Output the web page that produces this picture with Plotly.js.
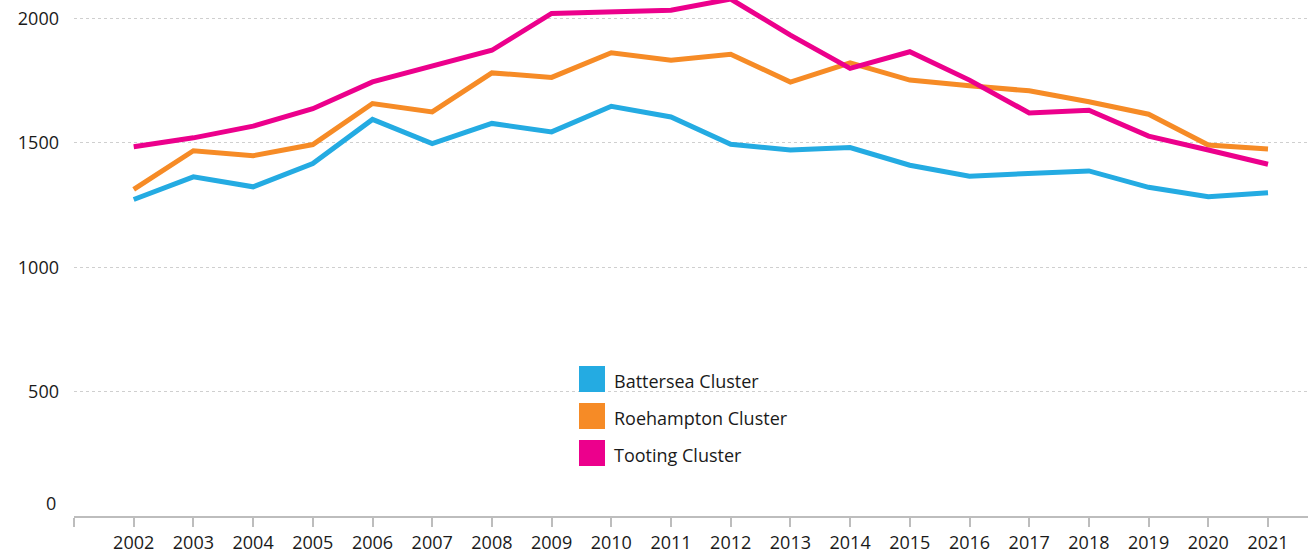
<!DOCTYPE html>
<html>
<head>
<meta charset="utf-8">
<script src="https://cdn.plot.ly/plotly-3.0.1.min.js"></script>
<style>html,body{margin:0;padding:0;background:#fff;}#chart{width:1308px;height:554px;}</style>
</head>
<body>
<div id="chart"></div>
<script>
const years = [2002,2003,2004,2005,2006,2007,2008,2009,2010,2011,2012,2013,2014,2015,2016,2017,2018,2019,2020,2021];
const battersea = [1272,1363,1323,1417,1594,1497,1578,1544,1647,1604,1494,1471,1481,1410,1366,1379,1387,1321,1283,1299];
const roehampton = [1313,1468,1448,1493,1658,1624,1781,1763,1862,1832,1856,1744,1821,1752,1729,1709,1665,1615,1491,1475];
const tooting = [1484,1520,1567,1637,1745,1807,1872,2020,2024,2033,2078,1933,1799,1866,1752,1620,1631,1527,1471,1414];
const seriesNames = ['Battersea Cluster','Roehampton Cluster','Tooting Cluster'];
const seriesColors = ['#24abe2','#f68b26','#ec008c'];
const yTicks = [0,500,1000,1500,2000];

const FONT = '"Segoe UI","Open Sans","Noto Sans",sans-serif';
const seriesData = [battersea, roehampton, tooting];

const traces = seriesData.map((vals, i) => ({
  type: 'scatter', mode: 'lines', x: years, y: vals, name: seriesNames[i],
  line: {color: seriesColors[i], width: 5, shape: 'linear'},
  showlegend: false, hoverinfo: 'x+y+name'
}));

// custom legend (large square swatches)
const shapes = [];
const annotations = [];
const legX = 579, legY0 = 366, legStep = 37, sw = 26;
seriesNames.forEach((n, i) => {
  const top = legY0 + i * legStep;
  shapes.push({type:'rect', xref:'paper', yref:'paper',
    x0: (legX - 74) / (1308 - 74), x1: (legX + sw - 74) / (1308 - 74),
    y0: 1 - (top + sw) / 516, y1: 1 - top / 516,
    fillcolor: seriesColors[i], line: {width: 0}});
  annotations.push({xref:'paper', yref:'paper', x: (612 - 74) / (1308 - 74), y: 1 - (top + sw/2 + 2) / 516,
    xanchor:'left', yanchor:'middle', text: n, showarrow:false,
    font:{family: FONT, size: 18, color:'#1a1a1a'}});
});
// zero label lifted above axis line
annotations.push({xref:'paper', yref:'y', x: 0, y: yTicks[0], xanchor:'right', yanchor:'middle',
  xshift: -16, yshift: 13, text: String(yTicks[0]), showarrow:false,
  font:{family: FONT, size: 18, color:'#1a1a1a'}});

const layout = {
  width: 1308, height: 554,
  margin: {l: 74, r: 0, t: 0, b: 38, pad: 0},
  paper_bgcolor: '#fff', plot_bgcolor: '#fff',
  font: {family: FONT, size: 18, color: '#1a1a1a'},
  showlegend: false,
  xaxis: {
    range: [2001, 2021.67],
    tickvals: [2001].concat(years),
    ticktext: [''].concat(years.map(String)),
    showgrid: false, zeroline: false,
    showline: true, linecolor: '#bdbdbd', linewidth: 2,
    ticks: 'outside', ticklen: 9, tickwidth: 2, tickcolor: '#bdbdbd',
    tickfont: {family: FONT, size: 18, color: '#1a1a1a'},
    fixedrange: true
  },
  yaxis: {
    range: [0, 2074],
    tickvals: yTicks,
    ticktext: yTicks.map(v => v === 0 ? '' : String(v)),
    showgrid: true, gridcolor: '#cfcfcf', griddash: 'dot', gridwidth: 1,
    zeroline: false, showline: false, ticks: '',
    ticklabelstandoff: 14,
    tickfont: {family: FONT, size: 18, color: '#1a1a1a'},
    fixedrange: true
  },
  shapes: shapes,
  annotations: annotations
};

Plotly.newPlot('chart', traces, layout, {displayModeBar: false, staticPlot: true});
</script>
</body>
</html>
